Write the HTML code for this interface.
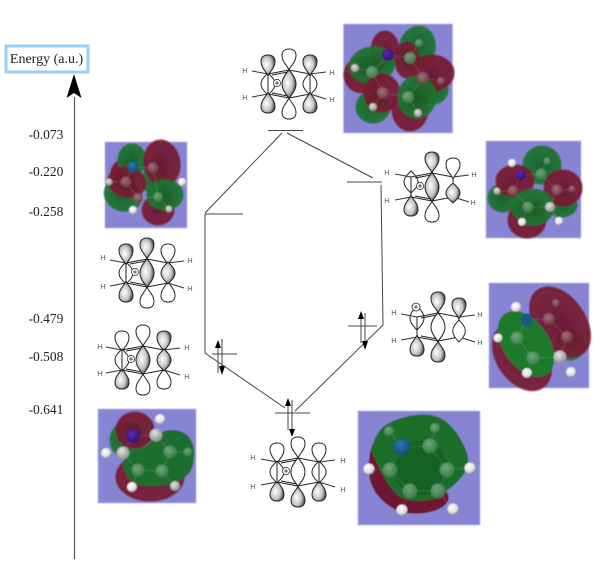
<!DOCTYPE html>
<html><head><meta charset="utf-8"><style>
html,body{margin:0;padding:0;background:#fff}
svg{display:block}
text{font-family:"Liberation Serif",serif;fill:#222}
.h{font-family:"Liberation Sans",sans-serif;font-size:7.500px;fill:#555;text-anchor:middle}
.e{font-size:13.500px;text-anchor:middle}
.l{stroke:#444;stroke-width:1;fill:none}
.p{fill:#8784d4;stroke:#b9b8e6;stroke-width:.8}
.g{fill:url(#gg);fill-opacity:.93;stroke:#1d7430;stroke-opacity:.8;stroke-width:3.500}
.r{fill:url(#rr);fill-opacity:.9;stroke:#771b31;stroke-opacity:.8;stroke-width:3.500}
.bd{fill:none;stroke:#fff;stroke-opacity:.16;stroke-width:.8}
</style></head><body>
<svg width="600" height="575" viewBox="0 0 600 575" xmlns="http://www.w3.org/2000/svg">
<defs>
<radialGradient id="gg" cx=".5" cy=".5" r=".6"><stop offset="0" stop-color="#145e24"/><stop offset="1" stop-color="#1f7a32"/></radialGradient>
<radialGradient id="rr" cx=".5" cy=".5" r=".6"><stop offset="0" stop-color="#661126"/><stop offset="1" stop-color="#7e1e34"/></radialGradient>
<radialGradient id="gl" cx=".4" cy=".45" r=".65"><stop offset="0" stop-color="#fff"/><stop offset=".55" stop-color="#c4c4c4"/><stop offset="1" stop-color="#2a2a2a"/></radialGradient>
<radialGradient id="hh" cx=".4" cy=".35" r=".7"><stop offset="0" stop-color="#fff"/><stop offset=".7" stop-color="#ddd"/><stop offset="1" stop-color="#888"/></radialGradient>
<radialGradient id="cg" cx=".4" cy=".35" r=".7"><stop offset="0" stop-color="#7db08a" stop-opacity=".85"/><stop offset="1" stop-color="#3f7c4c" stop-opacity=".8"/></radialGradient>
<radialGradient id="cr" cx=".4" cy=".35" r=".7"><stop offset="0" stop-color="#ad7a82" stop-opacity=".85"/><stop offset="1" stop-color="#703844" stop-opacity=".8"/></radialGradient>
<radialGradient id="cw" cx=".4" cy=".35" r=".7"><stop offset="0" stop-color="#e4e4e4"/><stop offset="1" stop-color="#888"/></radialGradient>
<radialGradient id="nb" cx=".4" cy=".35" r=".7"><stop offset="0" stop-color="#2a78b0"/><stop offset="1" stop-color="#134a78"/></radialGradient>
<radialGradient id="np" cx=".4" cy=".35" r=".7"><stop offset="0" stop-color="#5a2ab0"/><stop offset="1" stop-color="#2c1070"/></radialGradient>
<path id="W" d="M0 0C-2-5-7-8-7-14.500C-7-19-4-21 0-21C4-21 7-19 7-14.500C7-8 2-5 0 0Z" fill="#fff" stroke="#222" stroke-width="1"/>
<path id="G" d="M0 0C-2-5-7-8-7-14.500C-7-19-4-21 0-21C4-21 7-19 7-14.500C7-8 2-5 0 0Z" fill="url(#gl)" stroke="#222" stroke-width="1"/>
<path id="MW" d="M0-11C-4-7-7-4-7 0C-7 4-4 7 0 11C4 7 7 4 7 0C7-4 4-7 0-11Z" fill="#fff" stroke="#222" stroke-width="1"/>
<path id="MG" d="M0-11C-4-7-7-4-7 0C-7 4-4 7 0 11C4 7 7 4 7 0C7-4 4-7 0-11Z" fill="url(#gl)" stroke="#222" stroke-width="1"/>
<g id="ring" fill="none" stroke="#222" stroke-width="1">
<path d="M-21-10L0-14L21-10M-21 10L0 14L21 10M-21-10V10M21-10V10"/>
<path d="M-17-9L-1-12M-17 9L-1 12"/>
<path d="M-21-10L-37-13M-21 10L-37 13M21-10L37-12M21 10L37 15" stroke="#333"/>
</g>
<g id="pl" fill="none" stroke="#222">
<circle cx="-12" cy="-1" r="3.600" fill="#fff" stroke-width=".7"/>
<path d="M-14-1H-10M-12-3V1" stroke-width=".7"/>
</g>
<filter id="b" x="-5%" y="-5%" width="110%" height="110%"><feGaussianBlur stdDeviation=".5"/></filter>
<filter id="c" x="-5%" y="-5%" width="110%" height="110%"><feGaussianBlur stdDeviation=".3"/></filter>
</defs>

<!-- axis -->
<rect x="6" y="46" width="82" height="26" fill="#fff" stroke="#9ccdf7" stroke-width="3"/>
<text x="46.500" y="63" font-size="14" text-anchor="middle">Energy (a.u.)</text>
<path d="M74.500 97V559" stroke="#555" stroke-width="1.200" fill="none"/>
<path d="M74 74L81.500 98L74 93L66.500 98Z" fill="#000"/>
<text class="e" x="46" y="139">-0.073</text>
<text class="e" x="46" y="176">-0.220</text>
<text class="e" x="46" y="216">-0.258</text>
<text class="e" x="46" y="323">-0.479</text>
<text class="e" x="46" y="361">-0.508</text>
<text class="e" x="46" y="414">-0.641</text>

<!-- connectors -->
<g class="l">
<path d="M268 130.500H303M205 214H243M347 182H382M212 354H237M348 326H377M275 413H310"/>
<path d="M205 213L282 133M287 133L373 178M381 185L383 325L295 411M205 214V353L285 408"/>
<path d="M361 316V343M365 313V344M218 345V373M222 339V369M288 404V430M292 400V432"/>
</g>
<path d="M361 311L358 319H364ZM365 350L362 341H368ZM218 340L215 348H221ZM222 375L219 366H225ZM288 398L285 406H291ZM292 437L289 429H295Z" fill="#000"/>

<!-- line structures -->
<g filter="url(#c)">
<g transform="translate(289,84)">
<use href="#MW" transform="translate(-21,0)"/><use href="#MW" transform="translate(21,0)"/>
<use href="#ring"/>
<use href="#G" transform="translate(-21,-8)"/><use href="#G" transform="translate(-21,8) scale(1,-1)"/>
<use href="#G" transform="translate(21,-8)"/><use href="#G" transform="translate(21,8) scale(1,-1)"/>
<use href="#W" transform="translate(0,-14)"/><use href="#W" transform="translate(0,14) scale(1,-1)"/>
<use href="#MG" transform="scale(1,1.3)"/>
<use href="#pl"/>
<text class="h" x="-44" y="-11">H</text><text class="h" x="-44" y="16">H</text><text class="h" x="43" y="-9">H</text><text class="h" x="43" y="18">H</text>
</g>
<g transform="translate(147,273)">
<use href="#MW" transform="translate(-21,0)"/>
<use href="#ring"/>
<use href="#G" transform="translate(-21,-8)"/><use href="#G" transform="translate(-21,8) scale(1,-1)"/>
<use href="#W" transform="translate(21,-8)"/><use href="#W" transform="translate(21,8) scale(1,-1)"/>
<use href="#MG" transform="translate(21,0)"/>
<use href="#G" transform="translate(0,-14)"/><use href="#W" transform="translate(0,14) scale(1,-1)"/>
<use href="#MG" transform="scale(1,1.3)"/>
<use href="#pl"/>
<text class="h" x="-44" y="-13">H</text><text class="h" x="-44" y="16">H</text><text class="h" x="43" y="-10">H</text><text class="h" x="43" y="18">H</text>
</g>
<g transform="translate(143,360)">
<use href="#G" transform="translate(-21,8) scale(1,-1)"/>
<use href="#W" transform="translate(-21,-8)"/>
<use href="#MW" transform="translate(-21,0)"/>
<use href="#ring"/>
<use href="#G" transform="translate(21,-8)"/><use href="#W" transform="translate(21,8) scale(1,-1)"/>
<use href="#MG" transform="translate(21,0)"/>
<use href="#W" transform="translate(0,-14)"/><use href="#W" transform="translate(0,14) scale(1,-1)"/>
<use href="#MG" transform="scale(1,1.3)"/>
<use href="#pl"/>
<text class="h" x="-43" y="-11">H</text><text class="h" x="-43" y="16">H</text><text class="h" x="44" y="-10">H</text><text class="h" x="44" y="19">H</text>
</g>
<g transform="translate(432,187)">
<use href="#MW" transform="translate(-21,-5)"/>
<use href="#ring"/>
<use href="#G" transform="translate(-21,8) scale(1,-1)"/>
<use href="#W" transform="translate(21,-8)"/>
<use href="#MG" transform="translate(21,6) scale(1,.9)"/>
<use href="#G" transform="translate(0,-14)"/><use href="#W" transform="translate(0,14) scale(1,-1)"/>
<use href="#MG" transform="scale(1,1.3)"/>
<use href="#pl"/>
<text class="h" x="-45" y="-12">H</text><text class="h" x="-45" y="16">H</text><text class="h" x="42" y="-10">H</text><text class="h" x="41" y="18">H</text>
</g>
<g transform="translate(438,327)">
<use href="#MW" transform="translate(-21,-9) scale(1,1.1)"/>
<use href="#ring"/>
<use href="#G" transform="translate(-21,8) scale(1,-1)"/>
<use href="#G" transform="translate(21,-8)"/>
<use href="#MW" transform="translate(21,4) scale(.9,1)"/>
<use href="#G" transform="translate(0,-14)"/><use href="#G" transform="translate(0,14) scale(1,-1)"/>
<use href="#MW" transform="scale(1,1.3)"/>
<circle cx="-22" cy="-20" r="4" fill="#fff" stroke="#222" stroke-width=".8"/><path d="M-24-20H-20M-22-22V-18" stroke="#222" stroke-width=".7"/>
<text class="h" x="-44" y="-12">H</text><text class="h" x="-44" y="16">H</text><text class="h" x="42" y="-10">H</text><text class="h" x="42" y="18">H</text>
</g>
<g transform="translate(298,472)">
<use href="#G" transform="translate(-21,8) scale(1,-1)"/><use href="#G" transform="translate(21,8) scale(1,-1)"/>
<use href="#W" transform="translate(-21,-8)"/><use href="#W" transform="translate(21,-8)"/>
<use href="#MW" transform="translate(-21,0)"/><use href="#MW" transform="translate(21,0)"/>
<use href="#ring"/>
<use href="#W" transform="translate(0,-14)"/><use href="#G" transform="translate(0,14) scale(1,-1)"/>
<use href="#MW" transform="scale(1,1.3)"/>
<use href="#pl"/>
<text class="h" x="-45" y="-12">H</text><text class="h" x="-45" y="17">H</text><text class="h" x="45" y="-9">H</text><text class="h" x="45" y="20">H</text>
</g>
</g>

<!-- orbital panels -->
<g filter="url(#b)">
<rect class="p" x="343.500" y="24" width="109" height="109"/>
<ellipse class="g" cx="417" cy="48" rx="17" ry="21" transform="rotate(15 417 48)"/>
<ellipse class="r" cx="385" cy="50" rx="13" ry="18"/>
<ellipse class="r" cx="407" cy="60" rx="11" ry="17"/>
<ellipse class="r" cx="362" cy="75" rx="17" ry="17"/>
<ellipse class="g" cx="372" cy="65" rx="22" ry="17" transform="rotate(-10 372 65)"/>
<ellipse class="g" cx="433" cy="90" rx="14" ry="13"/>
<ellipse class="r" cx="432" cy="73" rx="21" ry="17"/>
<ellipse class="g" cx="373" cy="107" rx="16" ry="15"/>
<ellipse class="r" cx="382" cy="93" rx="17" ry="18"/>
<ellipse class="r" cx="410" cy="110" rx="17" ry="20"/>
<ellipse class="g" cx="417" cy="97" rx="18" ry="20"/>
<path class="bd" d="M388 55L410 58L419 43M388 55L372 72L355 68M372 72L383 93L373 107M383 93L408 97L418 113M408 97L423 78L441 81M423 78L410 58"/>
<circle cx="388" cy="55" r="6" fill="url(#np)"/><circle cx="410" cy="58" r="6" fill="url(#cg)"/><circle cx="419" cy="43" r="4" fill="url(#cg)"/><circle cx="372" cy="72" r="6" fill="url(#cg)"/><circle cx="355" cy="68" r="4" fill="url(#cw)"/><circle cx="423" cy="78" r="6" fill="url(#cr)"/><circle cx="441" cy="81" r="4" fill="url(#cr)"/><circle cx="383" cy="93" r="6" fill="url(#cr)"/><circle cx="373" cy="107" r="4" fill="url(#cw)"/><circle cx="408" cy="97" r="6" fill="url(#cg)"/><circle cx="418" cy="113" r="4" fill="url(#cw)"/>

<rect class="p" x="105" y="142" width="82" height="86"/>
<ellipse class="r" cx="123" cy="173" rx="11" ry="12"/>
<ellipse class="g" cx="155" cy="180" rx="12" ry="14"/>
<ellipse class="g" cx="132" cy="160" rx="13" ry="15"/>
<ellipse class="r" cx="162" cy="163" rx="17" ry="22" transform="rotate(-10 162 163)"/>
<ellipse class="g" cx="123" cy="195" rx="18" ry="15" transform="rotate(20 123 195)"/>
<ellipse class="r" cx="127" cy="182" rx="18" ry="14" transform="rotate(15 127 182)"/>
<ellipse class="r" cx="158" cy="210" rx="15" ry="14"/>
<ellipse class="g" cx="165" cy="195" rx="17" ry="14"/>
<path class="bd" d="M133 167L153 168M133 167L126 182L138 198L158 197L169 209M126 182L109 182M138 198L133 210M158 197L153 168"/>
<circle cx="133" cy="167" r="5.500" fill="url(#nb)"/><circle cx="153" cy="168" r="5.500" fill="url(#cr)"/><circle cx="126" cy="182" r="5.500" fill="url(#cr)"/><circle cx="138" cy="198" r="5" fill="url(#cr)"/><circle cx="109" cy="182" r="3.500" fill="url(#cw)"/><circle cx="182" cy="182" r="4" fill="url(#hh)"/><circle cx="158" cy="197" r="5" fill="url(#cg)"/><circle cx="133" cy="210" r="4" fill="url(#hh)"/><circle cx="169" cy="209" r="3.500" fill="url(#cw)"/>

<rect class="p" x="98" y="409" width="98" height="94"/>
<ellipse class="r" cx="150" cy="477" rx="33" ry="23"/>
<ellipse class="g" cx="127" cy="440" rx="16" ry="17"/>
<ellipse class="r" cx="135" cy="430" rx="18" ry="17"/>
<path d="M122 462C132 452 148 448 156 436C164 428 180 428 188 436C196 444 196 462 190 472C182 482 170 486 150 486C135 486 125 480 122 462Z" fill="#1b6e2d"/>
<path class="bd" d="M133 436L123 453L138 470L162 471L170 452L188 452M133 436L156 435L170 452M138 470L132 487M162 471L175 486M123 453L106 453M156 435L160 419"/>
<circle cx="133" cy="436" r="7" fill="url(#np)"/><circle cx="156" cy="435" r="6.500" fill="url(#cw)"/><circle cx="160" cy="419" r="5" fill="url(#hh)"/><circle cx="123" cy="453" r="6.500" fill="url(#cw)"/><circle cx="106" cy="453" r="5" fill="url(#hh)"/><circle cx="138" cy="470" r="6.500" fill="url(#cg)"/><circle cx="162" cy="471" r="6.500" fill="url(#cg)"/><circle cx="170" cy="452" r="6.500" fill="url(#cg)"/><circle cx="188" cy="452" r="4.500" fill="url(#cg)"/><circle cx="132" cy="487" r="5" fill="url(#hh)"/><circle cx="175" cy="486" r="5" fill="url(#cw)"/>

<rect class="p" x="486" y="141" width="95" height="97"/>
<ellipse class="g" cx="503" cy="198" rx="14" ry="13"/>
<ellipse class="g" cx="562" cy="205" rx="14" ry="11"/>
<ellipse class="r" cx="527" cy="220" rx="18" ry="17"/>
<ellipse class="g" cx="542" cy="165" rx="18" ry="18" transform="rotate(-15 542 165)"/>
<ellipse class="r" cx="515" cy="181" rx="18" ry="15"/>
<ellipse class="r" cx="563" cy="188" rx="18" ry="17"/>
<ellipse class="g" cx="533" cy="207" rx="20" ry="17"/>
<path class="bd" d="M521 175L541 174L547 161M521 175L513 191L497 191M513 191L528 207L522 222M528 207L550 207L559 221M550 207L557 190L572 189M557 190L541 174"/>
<circle cx="521" cy="175" r="5" fill="url(#np)"/><circle cx="541" cy="174" r="5.500" fill="url(#cg)"/><circle cx="547" cy="161" r="3.500" fill="url(#cg)"/><circle cx="512" cy="163" r="4" fill="url(#hh)"/><circle cx="513" cy="191" r="5.500" fill="url(#cr)"/><circle cx="497" cy="191" r="3.500" fill="url(#cw)"/><circle cx="557" cy="190" r="5.500" fill="url(#cr)"/><circle cx="572" cy="189" r="3.500" fill="url(#cr)"/><circle cx="528" cy="207" r="5.500" fill="url(#cg)"/><circle cx="522" cy="222" r="4" fill="url(#hh)"/><circle cx="550" cy="207" r="5" fill="url(#cw)"/><circle cx="559" cy="221" r="4" fill="url(#hh)"/>

<rect class="p" x="489" y="283" width="100" height="105"/>
<ellipse class="g" cx="570" cy="345" rx="14" ry="14"/>
<ellipse class="r" cx="560" cy="322" rx="24" ry="38" transform="rotate(-35 560 322)"/>
<ellipse class="r" cx="522" cy="357" rx="24" ry="36" transform="rotate(-35 522 357)"/>
<ellipse cx="526" cy="344" rx="23" ry="37" transform="rotate(-35 526 344)" fill="#1f7a2c"/>
<path class="bd" d="M527 320L517 338L533 358L560 357L567 337L549 319L527 320M527 373L533 358M571 372L560 357"/>
<circle cx="527" cy="320" r="6.500" fill="#1b5a7c"/><circle cx="517" cy="338" r="6.500" fill="url(#cg)"/><circle cx="549" cy="319" r="6" fill="url(#cr)"/><circle cx="516" cy="307" r="5" fill="url(#hh)"/><circle cx="498" cy="338" r="4.500" fill="url(#hh)"/><circle cx="533" cy="358" r="6.500" fill="url(#cg)"/><circle cx="527" cy="373" r="5" fill="url(#hh)"/><circle cx="560" cy="357" r="6.500" fill="url(#cw)"/><circle cx="571" cy="372" r="5" fill="url(#hh)"/><circle cx="567" cy="337" r="6" fill="url(#cr)"/><circle cx="556" cy="303" r="4" fill="url(#cr)"/>

<rect class="p" x="358" y="411" width="122" height="114"/>
<path d="M382 428C372 440 366 458 370 480C374 495 385 505 400 512C420 516 437 512 445 505C450 500 450 495 445 490L400 440Z" fill="#6e1530"/>
<path d="M383 427C395 418 415 413 430 415C445 417 455 428 462 442C468 452 470 462 466 470C460 482 448 490 437 498C425 502 410 502 400 497C385 485 378 465 372 452C372 442 378 432 383 427Z" fill="#1b6e2c"/>
<circle cx="420" cy="468" r="27" fill="#0f5a1c" opacity=".6"/>
<path class="bd" d="M402 447L390 470L410 491L438 491L447 470L430 446L402 447M389 431L402 447M435 428L430 446M390 470L369 469M447 470L470 468M410 491L402 510M438 491L453 509"/>
<circle cx="402" cy="447" r="8" fill="url(#nb)"/><circle cx="390" cy="470" r="7.500" fill="url(#cg)"/><circle cx="430" cy="446" r="7.500" fill="url(#cg)"/><circle cx="447" cy="470" r="7.500" fill="url(#cg)"/><circle cx="410" cy="491" r="7.500" fill="url(#cg)"/><circle cx="438" cy="491" r="7.500" fill="url(#cg)"/><circle cx="389" cy="431" r="5" fill="url(#cg)"/><circle cx="435" cy="428" r="5" fill="url(#cg)"/><circle cx="369" cy="469" r="5.500" fill="url(#hh)"/><circle cx="470" cy="468" r="5.500" fill="url(#hh)"/><circle cx="402" cy="510" r="5.500" fill="url(#hh)"/><circle cx="453" cy="509" r="5.500" fill="url(#hh)"/>
</g>
</svg>
</body></html>
